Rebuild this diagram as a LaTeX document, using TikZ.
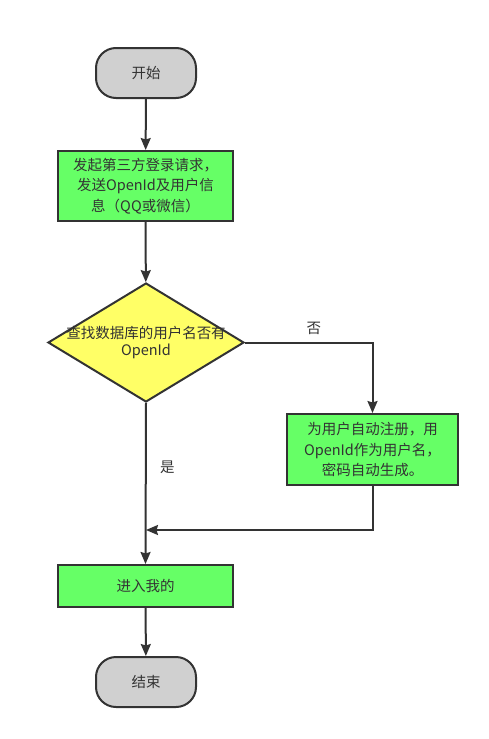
\documentclass[tikz,border=0pt]{standalone}
\usepackage{fontspec}
\setmainfont{Noto Sans CJK SC}
\usetikzlibrary{arrows.meta,shapes.geometric}
\definecolor{linegray}{HTML}{333333}
\definecolor{termgray}{HTML}{D0D0D0}
\definecolor{boxgreen}{HTML}{66FF66}
\definecolor{condyellow}{HTML}{FFFF66}
\begin{document}
\begin{tikzpicture}[x=1pt,y=-1pt,line width=2pt,draw=linegray,text=linegray,
		font=\fontsize{14.5}{20.5}\selectfont,>={Stealth[length=12pt,width=10pt,inset=1.5pt]},
		terminal/.style={draw=linegray,fill=termgray,rounded corners=20pt,minimum width=100pt,minimum height=50pt,inner sep=0pt},
		process/.style={draw=linegray,fill=boxgreen,align=center,inner sep=0pt},
		decision/.style={draw=linegray,fill=condyellow,diamond,inner sep=0pt,minimum width=196pt,minimum height=119pt},
		flow/.style={draw=linegray,line width=2pt,->}]
			\useasboundingbox (0,0) rectangle (489,739);
			\node[terminal] (start) at (146,73) {开始};
			\node[process,minimum width=175pt,minimum height=70pt] (send) at (145.5,186) {发起第三方登录请求，\\发送OpenId及用户信\\息（QQ或微信）};
			\node[decision] (query) at (146,342.5) {};
			\node[align=center,font=\fontsize{14.5}{17.5}\selectfont] (querytext) at (query.center) {查找数据库的用户名否有\\OpenId};
			\node[process,minimum width=171pt,minimum height=71pt] (register) at (372.5,449.5) {为用户自动注册，用\\OpenId作为用户名，\\密码自动生成。};
			\node[process,minimum width=175pt,minimum height=42pt] (enter) at (145.5,586) {进入我的};
			\node[terminal] (finish) at (146,682) {结束};
			\coordinate (merge) at (146,530);
			\draw[flow] (start) -- (send);
			\draw[flow] (send) -- (query);
			\draw[flow] (query.east) -| (register.north) node[pos=0.27,above=4pt,text=linegray]{否};
			\draw[flow] (query.south) -- (enter.north) node[pos=0.4,right=10pt]{是};
			\draw[flow] (register.south) |- (merge);
			\draw[flow] (enter) -- (finish);
		\end{tikzpicture}
\end{document}
